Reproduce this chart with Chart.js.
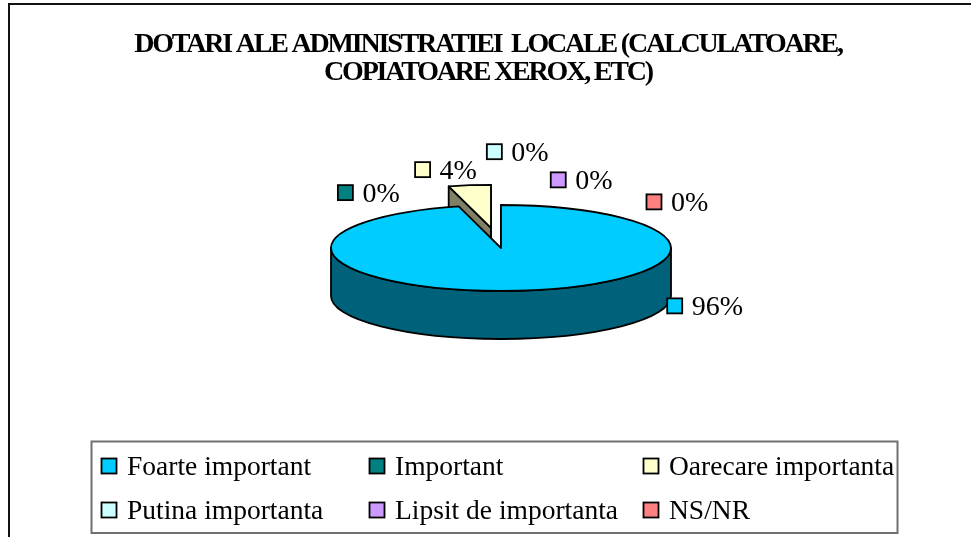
<!DOCTYPE html>
<html>
<head>
<meta charset="utf-8">
<script src="https://cdn.jsdelivr.net/npm/chart.js@4/dist/chart.umd.min.js"></script>
<style>
  html, body { margin: 0; padding: 0; background: #fff; }
  canvas { display: block; }
</style>
</head>
<body>
<canvas id="pie" width="971" height="537"></canvas>
<script>
// Chart data
const titleLines = ['DOTARI ALE ADMINISTRATIEI  LOCALE (CALCULATOARE,', 'COPIATOARE XEROX, ETC)'];
const categories = ['Foarte important', 'Important', 'Oarecare importanta', 'Putina importanta', 'Lipsit de importanta', 'NS/NR'];
const percents = [96, 0, 4, 0, 0, 0];
const sliceColors = ['#00CCFF', '#008080', '#FFFFCC', '#CCFFFF', '#CC99FF', '#FF8080'];
const explode = [0, 0, 80, 0, 0, 0];

// Label placement around the pie (angle nudge in degrees, distance in radii)
const labelNudge = [-30, -21, -7, -1, 12, 40];
const labelDist = [1.69, 1.58, 1.88, 2.24, 1.62, 1.40];

const TILT = 43 / 170;
const DEPTH = 48;
const SERIF = '"Liberation Serif", "Times New Roman", serif';

function shade(hex, f) {
  const n = parseInt(hex.slice(1), 16);
  const r = Math.round(((n >> 16) & 255) * f);
  const g = Math.round(((n >> 8) & 255) * f);
  const b = Math.round((n & 255) * f);
  return `rgb(${r},${g},${b})`;
}

// White page + outer frame
const frame = {
  id: 'frame',
  beforeDraw(chart) {
    const ctx = chart.ctx;
    ctx.save();
    ctx.fillStyle = '#fff';
    ctx.fillRect(0, 0, chart.width, chart.height);
    ctx.strokeStyle = '#111';
    ctx.lineWidth = 2;
    ctx.strokeRect(9, 4, 1000, 600);
    ctx.restore();
  }
};

// Draw the pie arcs as a tilted 3D pie
const pie3d = {
  id: 'pie3d',
  beforeDatasetsDraw(chart) {
    const ctx = chart.ctx;
    const arcs = chart.getDatasetMeta(0).data;
    const colors = chart.data.datasets[0].backgroundColor;
    const pieces = arcs.map((arc, i) => {
      const p = arc.getProps(['x', 'y', 'startAngle', 'endAngle', 'outerRadius'], true);
      const mid = (p.startAngle + p.endAngle) / 2;
      const off = arc.options.offset || 0;
      return {
        cx: p.x + Math.cos(mid) * off,
        cy: p.y + Math.sin(mid) * off * TILT,
        a0: p.startAngle, a1: p.endAngle,
        rx: p.outerRadius, ry: p.outerRadius * TILT,
        color: colors[i]
      };
    }).filter(p => p.a1 - p.a0 > 1e-6);

    ctx.save();
    ctx.lineWidth = 1.8;
    ctx.lineJoin = 'round';
    ctx.strokeStyle = '#000';

    // radial cut faces
    pieces.forEach(p => {
      if (p.a1 - p.a0 >= Math.PI * 2 - 1e-6) return;
      const faces = [];
      if (Math.cos(p.a0) < 1e-9) faces.push(p.a0);
      if (Math.cos(p.a1) > -1e-9) faces.push(p.a1);
      faces.forEach(a => {
        const ex = p.cx + Math.cos(a) * p.rx, ey = p.cy + Math.sin(a) * p.ry;
        ctx.beginPath();
        ctx.moveTo(p.cx, p.cy);
        ctx.lineTo(ex, ey);
        ctx.lineTo(ex, ey + DEPTH);
        ctx.lineTo(p.cx, p.cy + DEPTH);
        ctx.closePath();
        ctx.fillStyle = shade(p.color, 0.5);
        ctx.fill();
        ctx.stroke();
      });
    });

    // curved outer faces (front half only)
    pieces.forEach(p => {
      for (let k = -1; k <= 1; k++) {
        const b0 = Math.max(p.a0, k * 2 * Math.PI);
        const b1 = Math.min(p.a1, k * 2 * Math.PI + Math.PI);
        if (b1 - b0 <= 1e-6) continue;
        ctx.beginPath();
        ctx.ellipse(p.cx, p.cy, p.rx, p.ry, 0, b0, b1);
        ctx.lineTo(p.cx + Math.cos(b1) * p.rx, p.cy + Math.sin(b1) * p.ry + DEPTH);
        ctx.ellipse(p.cx, p.cy + DEPTH, p.rx, p.ry, 0, b1, b0, true);
        ctx.closePath();
        ctx.fillStyle = shade(p.color, 0.48);
        ctx.fill();
        ctx.stroke();
      }
    });

    // top faces
    pieces.forEach(p => {
      ctx.beginPath();
      if (p.a1 - p.a0 >= Math.PI * 2 - 1e-6) {
        ctx.ellipse(p.cx, p.cy, p.rx, p.ry, 0, 0, Math.PI * 2);
      } else {
        ctx.moveTo(p.cx, p.cy);
        ctx.ellipse(p.cx, p.cy, p.rx, p.ry, 0, p.a0, p.a1);
        ctx.closePath();
      }
      ctx.fillStyle = p.color;
      ctx.fill();
      ctx.stroke();
    });

    ctx.restore();
    return false;
  }
};

function keyBox(ctx, x, y, color) {
  ctx.fillStyle = color;
  ctx.fillRect(x - 7.5, y - 7.5, 15, 15);
  ctx.lineWidth = 1.8;
  ctx.strokeStyle = '#000';
  ctx.strokeRect(x - 7.5, y - 7.5, 15, 15);
}

// Title, percentage labels and legend
const annotations = {
  id: 'annotations',
  afterDraw(chart) {
    const ctx = chart.ctx;
    const arcs = chart.getDatasetMeta(0).data;
    const colors = chart.data.datasets[0].backgroundColor;
    ctx.save();

    // title
    ctx.fillStyle = '#000';
    ctx.font = 'bold 28px ' + SERIF;
    ctx.letterSpacing = '-2.2px';
    ctx.textAlign = 'center';
    ctx.textBaseline = 'alphabetic';
    titleLines.forEach((line, i) => ctx.fillText(line, 488, 52 + i * 28));
    ctx.letterSpacing = '0px';

    // percentage labels
    ctx.font = '28px ' + SERIF;
    ctx.textAlign = 'left';
    arcs.forEach((arc, i) => {
      const p = arc.getProps(['x', 'y', 'startAngle', 'endAngle', 'outerRadius'], true);
      const a = (p.startAngle + p.endAngle) / 2 + labelNudge[i] * Math.PI / 180;
      const lx = p.x + Math.cos(a) * p.outerRadius * labelDist[i];
      const ly = p.y + Math.sin(a) * p.outerRadius * TILT * labelDist[i];
      keyBox(ctx, lx, ly, colors[i]);
      ctx.fillStyle = '#000';
      ctx.fillText(percents[i] + '%', lx + 17, ly + 9);
    });

    // legend
    ctx.lineWidth = 2;
    ctx.strokeStyle = '#707070';
    ctx.strokeRect(91.5, 441.5, 806, 91.5);
    ctx.font = '27.5px ' + SERIF;
    const colX = [109, 377, 651];
    const rowY = [466, 510];
    categories.forEach((name, i) => {
      const x = colX[i % 3], y = rowY[Math.floor(i / 3)];
      keyBox(ctx, x, y, colors[i]);
      ctx.fillStyle = '#000';
      ctx.fillText(name, x + 18, y + 9);
    });

    ctx.restore();
  }
};

new Chart(document.getElementById('pie'), {
  type: 'pie',
  data: {
    labels: categories,
    datasets: [{
      data: percents,
      backgroundColor: sliceColors,
      offset: explode,
      borderWidth: 0
    }]
  },
  options: {
    responsive: false,
    animation: false,
    events: [],
    radius: 170,
    layout: { padding: { left: 31, right: 0, top: 0, bottom: 41 } },
    plugins: {
      legend: { display: false },
      title: { display: false },
      tooltip: { enabled: false }
    }
  },
  plugins: [frame, pie3d, annotations]
});
</script>
</body>
</html>
